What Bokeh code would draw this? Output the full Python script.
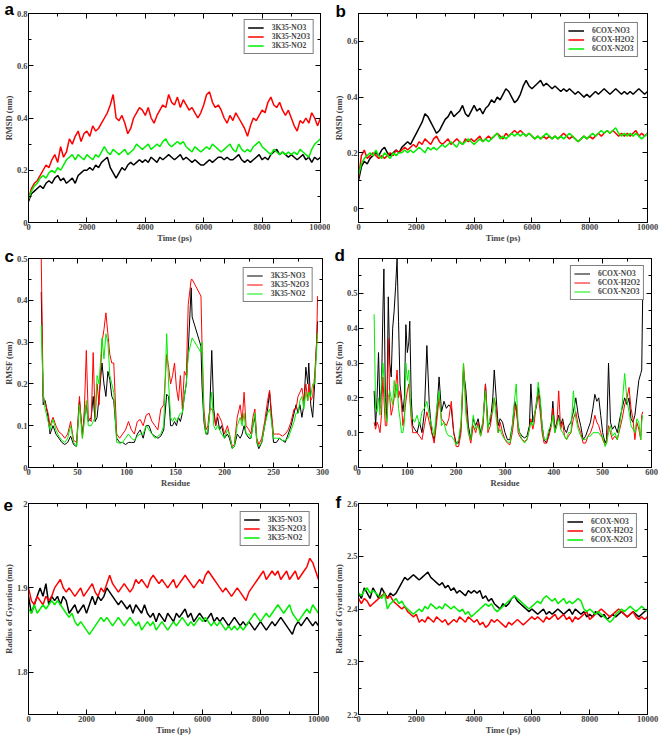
from bokeh.plotting import figure
from bokeh.layouts import column, row
from bokeh.models import (Range1d, LinearAxis, Legend, LegendItem,
                          FixedTicker, CustomJSTickFormatter)
from bokeh.embed import file_html
from bokeh.resources import INLINE

# ---------------- data ----------------
time_ps = list(range(0, 10001, 100))

# (a) RMSD 3K35
a_no3 = [.08,.11,.12,.13,.14,.13,.15,.16,.15,.17,
         .18,.16,.17,.15,.16,.17,.15,.18,.19,.20,
         .20,.21,.20,.22,.21,.23,.24,.25,.21,.19,
         .17,.19,.21,.20,.22,.23,.22,.23,.24,.23,
         .24,.23,.25,.24,.23,.25,.24,.25,.26,.25,
         .24,.25,.26,.24,.25,.24,.23,.24,.23,.22,
         .22,.23,.24,.23,.24,.25,.25,.24,.25,.24,
         .24,.25,.26,.24,.23,.24,.23,.24,.25,.26,
         .24,.25,.24,.26,.27,.28,.26,.27,.26,.25,
         .26,.25,.24,.25,.26,.24,.25,.23,.25,.24,
         .25]
a_n2o3 = [.09,.13,.15,.16,.18,.20,.22,.21,.24,.26,
          .23,.29,.25,.27,.32,.30,.33,.35,.31,.34,
          .35,.33,.37,.35,.36,.38,.40,.42,.45,.49,
          .40,.39,.41,.38,.34,.36,.40,.42,.44,.43,
          .41,.44,.40,.38,.41,.43,.45,.44,.49,.46,
          .45,.48,.44,.47,.45,.43,.44,.42,.40,.42,
          .45,.49,.50,.46,.44,.45,.43,.40,.38,.41,
          .39,.42,.40,.38,.36,.33,.37,.40,.39,.41,
          .43,.42,.46,.48,.45,.44,.46,.43,.41,.43,
          .40,.37,.35,.39,.38,.40,.38,.42,.40,.37,
          .40]
a_no2 = [.09,.12,.14,.15,.17,.18,.17,.19,.20,.19,
         .21,.20,.22,.24,.25,.26,.24,.26,.25,.24,
         .26,.25,.24,.26,.25,.27,.29,.27,.26,.28,
         .27,.26,.27,.28,.26,.27,.28,.30,.29,.28,
         .29,.30,.28,.29,.30,.29,.31,.32,.30,.29,
         .30,.31,.30,.31,.29,.28,.27,.29,.28,.27,
         .28,.29,.28,.30,.29,.28,.27,.28,.29,.30,
         .28,.27,.30,.28,.27,.28,.27,.29,.30,.31,
         .29,.28,.27,.26,.28,.27,.26,.27,.26,.27,
         .26,.27,.26,.28,.27,.26,.25,.28,.30,.31,
         .32]

# (b) RMSD 6COX
b_no3 = [.10,.15,.17,.16,.18,.19,.20,.19,.21,.22,
         .20,.19,.20,.21,.20,.22,.23,.24,.23,.25,
         .27,.29,.31,.34,.33,.31,.29,.27,.28,.30,
         .32,.33,.35,.33,.34,.35,.37,.34,.33,.35,
         .37,.35,.36,.34,.36,.37,.39,.38,.40,.39,
         .41,.43,.42,.40,.38,.39,.41,.44,.46,.44,
         .43,.44,.45,.46,.44,.45,.44,.43,.44,.43,
         .42,.43,.42,.43,.42,.41,.42,.41,.40,.41,
         .40,.41,.42,.41,.42,.43,.42,.41,.42,.43,
         .42,.41,.42,.41,.42,.41,.42,.43,.42,.41,
         .42]
b_h2o2 = [.11,.19,.21,.18,.19,.20,.19,.18,.19,.18,
          .19,.20,.19,.21,.20,.21,.22,.21,.22,.23,
          .22,.24,.23,.25,.24,.23,.25,.26,.24,.23,
          .24,.25,.23,.24,.25,.24,.23,.25,.24,.25,
          .24,.25,.26,.24,.25,.26,.25,.26,.27,.26,
          .25,.27,.26,.27,.28,.27,.28,.27,.26,.27,
          .26,.25,.26,.25,.26,.25,.26,.25,.26,.25,
          .26,.27,.26,.25,.26,.25,.24,.25,.26,.25,
          .26,.25,.26,.27,.26,.27,.28,.27,.28,.27,
          .26,.27,.26,.27,.26,.27,.28,.26,.27,.26,
          .27]
b_n2o3 = [.12,.16,.18,.19,.20,.19,.21,.19,.18,.20,
          .19,.18,.20,.19,.20,.20,.21,.20,.21,.20,
          .21,.22,.21,.20,.22,.21,.22,.21,.22,.23,
          .22,.23,.24,.23,.22,.24,.23,.24,.25,.24,
          .23,.24,.25,.24,.25,.24,.25,.26,.27,.25,
          .26,.25,.26,.27,.26,.27,.26,.27,.26,.27,
          .26,.25,.26,.25,.26,.27,.26,.25,.26,.25,
          .26,.25,.26,.27,.26,.25,.24,.25,.26,.25,
          .26,.27,.26,.27,.28,.27,.28,.27,.28,.29,
          .27,.26,.27,.26,.27,.26,.27,.26,.25,.26,
          .27]

# (c) RMSF 3K35
c_res = [13,15,17,20,22,25,28,31,34,37,
         40,43,46,49,52,55,57,59,61,64,
         66,68,70,72,75,77,79,81,83,85,
         87,90,93,96,99,102,105,108,111,114,
         117,120,123,126,129,132,135,138,141,143,
         145,147,149,151,153,155,157,159,161,163,
         166,167,176,177,179,181,183,185,187,189,
         191,193,195,197,200,203,205,208,210,213,
         216,218,220,222,225,227,229,231,233,235,
         238,241,244,246,248,250,253,256,259,262,
         265,268,271,273,275,277,279,281,283,285,
         286,288,290,292,294,295]
c_no3 = [.42,.15,.16,.12,.08,.10,.08,.07,.06,.055,
         .06,.075,.055,.05,.16,.08,.12,.15,.11,.12,
         .17,.11,.12,.17,.25,.20,.17,.23,.21,.17,
         .16,.07,.06,.06,.055,.06,.06,.06,.08,.09,
         .07,.10,.10,.08,.075,.07,.075,.09,.175,.17,
         .10,.10,.11,.10,.12,.11,.13,.17,.20,.28,
         .43,.36,.29,.20,.11,.08,.08,.14,.28,.14,
         .10,.12,.09,.10,.07,.08,.07,.045,.05,.08,
         .07,.08,.10,.08,.07,.07,.10,.12,.06,.045,
         .06,.10,.14,.18,.12,.06,.06,.07,.065,.06,
         .08,.10,.13,.15,.13,.15,.12,.15,.24,.20,
         .25,.15,.12,.20,.30,.35]
c_n2o3 = [.50,.17,.155,.13,.10,.12,.10,.085,.08,.07,
          .08,.11,.065,.06,.17,.07,.14,.28,.12,.11,
          .275,.12,.20,.15,.30,.33,.37,.32,.27,.25,
          .25,.08,.07,.08,.09,.11,.09,.08,.11,.115,
          .10,.125,.13,.11,.10,.09,.14,.15,.27,.24,
          .20,.22,.25,.19,.16,.22,.14,.23,.22,.39,
          .45,.45,.41,.30,.14,.09,.10,.14,.14,.13,
          .10,.13,.12,.11,.08,.10,.08,.05,.055,.12,
          .15,.11,.18,.10,.09,.08,.12,.14,.07,.055,
          .07,.11,.16,.185,.13,.08,.08,.08,.075,.08,
          .09,.11,.14,.14,.17,.18,.19,.16,.20,.16,
          .20,.16,.17,.22,.30,.41]
c_no2 = [.34,.18,.14,.11,.09,.115,.09,.075,.065,.06,
         .07,.10,.06,.05,.15,.07,.11,.16,.10,.10,
         .11,.12,.22,.20,.31,.26,.32,.30,.22,.20,
         .18,.06,.058,.06,.07,.08,.07,.065,.075,.08,
         .08,.10,.09,.08,.07,.075,.08,.10,.32,.20,
         .12,.11,.12,.11,.12,.13,.13,.17,.20,.27,
         .30,.31,.275,.30,.12,.08,.09,.13,.18,.10,
         .09,.10,.09,.08,.07,.09,.08,.045,.05,.10,
         .12,.10,.13,.08,.08,.07,.10,.13,.06,.05,
         .06,.10,.13,.14,.11,.07,.07,.07,.065,.065,
         .07,.09,.11,.13,.13,.16,.17,.14,.18,.16,
         .18,.17,.20,.20,.28,.32]

# (d) RMSF 6COX
d_res = [32,35,38,41,44,47,50,52,55,58,
         61,64,67,70,73,76,79,82,85,88,
         91,94,97,100,103,105,108,111,115,120,
         125,130,135,140,145,150,155,160,165,170,
         175,180,185,190,195,200,205,210,215,220,
         225,230,235,240,245,250,255,260,265,270,
         275,278,282,286,290,295,300,305,310,315,
         320,323,327,330,335,340,345,350,353,357,
         360,365,368,372,376,380,385,390,395,398,
         402,406,410,414,418,422,426,430,435,440,
         445,450,455,460,465,470,475,480,484,488,
         492,496,500,505,508,512,516,520,525,530,
         535,540,545,550,554,558,562,566,570,574,
         578,580,582]
d_no3 = [.22,.12,.20,.33,.17,.22,.45,.57,.20,.14,
         .49,.30,.26,.40,.45,.52,.60,.42,.24,.20,
         .16,.20,.41,.33,.36,.42,.20,.12,.11,.10,
         .13,.10,.16,.35,.18,.10,.08,.15,.26,.16,
         .19,.17,.18,.17,.10,.07,.07,.12,.28,.22,
         .12,.08,.14,.12,.14,.10,.13,.24,.12,.13,
         .20,.28,.20,.12,.14,.13,.10,.08,.08,.12,
         .19,.17,.12,.10,.09,.085,.09,.12,.24,.13,
         .15,.18,.23,.19,.12,.08,.07,.10,.13,.19,
         .11,.13,.15,.12,.14,.11,.10,.12,.13,.16,
         .20,.15,.12,.08,.09,.11,.13,.17,.21,.19,
         .20,.15,.10,.07,.08,.30,.13,.11,.12,.10,
         .14,.17,.20,.18,.20,.14,.13,.15,.20,.25,
         .27,.28,.50]
d_h2o2 = [.13,.11,.13,.12,.10,.15,.26,.20,.12,.12,
          .37,.20,.15,.17,.20,.23,.28,.20,.22,.18,
          .12,.15,.19,.22,.24,.20,.14,.10,.10,.10,
          .09,.08,.12,.16,.13,.10,.07,.13,.20,.14,
          .13,.12,.14,.19,.10,.06,.06,.10,.30,.18,
          .10,.07,.12,.10,.13,.09,.12,.24,.10,.12,
          .17,.20,.17,.10,.13,.10,.08,.07,.065,.10,
          .16,.18,.10,.09,.08,.075,.08,.11,.14,.11,
          .13,.20,.21,.16,.10,.07,.07,.09,.12,.17,
          .10,.12,.22,.11,.13,.09,.08,.09,.10,.14,
          .16,.12,.10,.07,.07,.09,.10,.12,.15,.13,
          .12,.10,.08,.065,.07,.12,.10,.08,.09,.08,
          .11,.14,.18,.20,.23,.17,.14,.08,.13,.11,
          .08,.15,.16]
d_n2o3 = [.44,.17,.16,.20,.15,.24,.30,.26,.16,.13,
          .20,.22,.20,.18,.25,.20,.24,.17,.14,.10,
          .10,.13,.30,.25,.28,.22,.15,.14,.13,.15,
          .12,.16,.17,.19,.15,.12,.09,.17,.22,.12,
          .13,.10,.09,.09,.08,.065,.08,.13,.30,.15,
          .10,.08,.15,.11,.12,.09,.14,.22,.11,.15,
          .16,.20,.14,.10,.11,.09,.08,.075,.07,.12,
          .20,.24,.12,.10,.08,.07,.08,.11,.13,.12,
          .15,.19,.245,.20,.12,.08,.08,.11,.12,.15,
          .10,.12,.14,.11,.10,.09,.08,.10,.10,.22,
          .14,.11,.09,.08,.08,.09,.09,.10,.10,.10,
          .10,.09,.09,.06,.07,.10,.12,.09,.10,.08,
          .12,.18,.27,.19,.16,.12,.11,.10,.14,.13,
          .08,.13,.15]

# (e) Rg 3K35
e_no3 = [1.89,1.87,1.88,1.89,1.90,1.89,1.905,1.88,1.89,1.885,
         1.89,1.88,1.89,1.885,1.87,1.875,1.88,1.87,1.875,1.88,
         1.87,1.88,1.89,1.88,1.89,1.885,1.89,1.90,1.895,1.89,
         1.885,1.88,1.885,1.88,1.875,1.88,1.87,1.88,1.875,1.87,
         1.88,1.87,1.865,1.87,1.86,1.87,1.865,1.86,1.87,1.865,
         1.86,1.87,1.865,1.87,1.875,1.865,1.87,1.86,1.865,1.87,
         1.865,1.86,1.865,1.87,1.86,1.865,1.86,1.865,1.86,1.855,
         1.86,1.865,1.86,1.855,1.86,1.855,1.86,1.855,1.85,1.855,
         1.86,1.855,1.85,1.855,1.86,1.855,1.86,1.865,1.86,1.855,
         1.85,1.845,1.855,1.86,1.855,1.86,1.865,1.86,1.855,1.86,
         1.855]
e_n2o3 = [1.90,1.885,1.88,1.89,1.885,1.88,1.89,1.885,1.89,1.90,
          1.905,1.91,1.90,1.895,1.90,1.895,1.89,1.895,1.90,1.89,
          1.895,1.90,1.905,1.895,1.89,1.90,1.895,1.905,1.915,1.905,
          1.90,1.895,1.90,1.905,1.90,1.895,1.90,1.91,1.905,1.91,
          1.905,1.90,1.91,1.915,1.91,1.905,1.91,1.905,1.90,1.905,
          1.91,1.90,1.905,1.91,1.915,1.91,1.905,1.90,1.905,1.91,
          1.905,1.915,1.92,1.915,1.91,1.905,1.90,1.895,1.90,1.895,
          1.89,1.895,1.90,1.895,1.89,1.885,1.895,1.90,1.905,1.91,
          1.915,1.92,1.91,1.915,1.92,1.915,1.92,1.91,1.915,1.92,
          1.91,1.915,1.92,1.91,1.915,1.92,1.925,1.935,1.93,1.92,
          1.91]
e_no2 = [1.875,1.87,1.88,1.87,1.875,1.88,1.875,1.88,1.885,1.88,
         1.885,1.88,1.875,1.87,1.865,1.87,1.86,1.855,1.86,1.855,
         1.85,1.845,1.85,1.855,1.86,1.865,1.86,1.865,1.86,1.855,
         1.86,1.865,1.86,1.855,1.86,1.865,1.86,1.855,1.86,1.85,
         1.855,1.86,1.855,1.86,1.85,1.855,1.86,1.855,1.85,1.855,
         1.86,1.855,1.86,1.865,1.86,1.855,1.86,1.855,1.86,1.865,
         1.86,1.865,1.86,1.855,1.86,1.855,1.86,1.855,1.85,1.855,
         1.85,1.855,1.85,1.855,1.85,1.855,1.86,1.865,1.87,1.865,
         1.86,1.865,1.87,1.865,1.87,1.875,1.88,1.875,1.87,1.875,
         1.88,1.87,1.865,1.86,1.865,1.87,1.875,1.87,1.88,1.875,
         1.87]

# (f) Rg 6COX
f_no3 = [2.43,2.42,2.44,2.43,2.42,2.44,2.43,2.42,2.44,2.43,
         2.42,2.43,2.425,2.43,2.44,2.45,2.46,2.455,2.46,2.465,
         2.46,2.455,2.46,2.465,2.47,2.46,2.455,2.45,2.445,2.45,
         2.44,2.445,2.435,2.44,2.43,2.435,2.43,2.425,2.435,2.43,
         2.435,2.43,2.435,2.42,2.425,2.415,2.42,2.41,2.405,2.40,
         2.41,2.405,2.41,2.42,2.425,2.415,2.41,2.405,2.40,2.395,
         2.40,2.395,2.39,2.395,2.40,2.39,2.395,2.39,2.395,2.40,
         2.395,2.39,2.395,2.40,2.39,2.40,2.395,2.39,2.395,2.385,
         2.39,2.385,2.395,2.39,2.385,2.39,2.38,2.385,2.39,2.385,
         2.39,2.395,2.39,2.385,2.39,2.395,2.39,2.385,2.39,2.395,
         2.40]
f_h2o2 = [2.42,2.41,2.42,2.415,2.405,2.41,2.415,2.42,2.425,2.43,
          2.42,2.425,2.415,2.41,2.405,2.40,2.405,2.395,2.39,2.385,
          2.39,2.375,2.38,2.375,2.385,2.38,2.375,2.385,2.38,2.375,
          2.38,2.37,2.375,2.38,2.375,2.385,2.38,2.375,2.385,2.38,
          2.375,2.38,2.37,2.375,2.365,2.37,2.38,2.375,2.38,2.375,
          2.37,2.365,2.375,2.37,2.375,2.38,2.375,2.37,2.375,2.38,
          2.385,2.38,2.385,2.38,2.375,2.385,2.38,2.385,2.39,2.38,
          2.385,2.39,2.38,2.385,2.375,2.385,2.38,2.385,2.39,2.395,
          2.38,2.385,2.39,2.395,2.40,2.395,2.39,2.385,2.39,2.395,
          2.40,2.395,2.39,2.385,2.39,2.395,2.385,2.38,2.385,2.38,
          2.385]
f_n2o3 = [2.43,2.425,2.435,2.44,2.43,2.435,2.43,2.425,2.42,2.43,
          2.40,2.41,2.415,2.42,2.41,2.415,2.405,2.40,2.395,2.39,
          2.395,2.40,2.395,2.405,2.40,2.41,2.405,2.40,2.405,2.40,
          2.41,2.405,2.40,2.405,2.40,2.395,2.40,2.39,2.395,2.385,
          2.39,2.395,2.40,2.405,2.41,2.405,2.41,2.40,2.395,2.40,
          2.405,2.41,2.415,2.42,2.425,2.42,2.415,2.41,2.405,2.40,
          2.405,2.41,2.415,2.41,2.42,2.425,2.42,2.415,2.42,2.41,
          2.415,2.42,2.41,2.415,2.41,2.415,2.42,2.415,2.40,2.395,
          2.40,2.395,2.39,2.395,2.39,2.385,2.38,2.375,2.38,2.39,
          2.395,2.40,2.395,2.40,2.405,2.40,2.395,2.40,2.405,2.40,
          2.395]

# tick values
t_major = [0, 2000, 4000, 6000, 8000, 10000]
t_minor = [1000, 3000, 5000, 7000, 9000]

# ---------------- styling ----------------
SERIF = "Liberation Serif"
COLORS = ["#000000", "#ff0000", "#00ee00"]
FS = "8.5px"
fmt = CustomJSTickFormatter(code="return String(Math.round(tick*1000)/1000);")


def style_axis(ax, major, minor, labelled):
    ax.ticker = FixedTicker(ticks=major, minor_ticks=minor)
    ax.formatter = fmt
    ax.axis_line_color = "black"
    ax.major_tick_in = 5
    ax.major_tick_out = 0
    ax.minor_tick_in = 3
    ax.minor_tick_out = 0
    ax.major_tick_line_color = "black"
    ax.minor_tick_line_color = "black"
    if labelled:
        ax.major_label_text_font = SERIF
        ax.major_label_text_font_style = "bold"
        ax.major_label_text_font_size = FS
        ax.major_label_standoff = 1
        ax.axis_label_text_font = SERIF
        ax.axis_label_text_font_style = "bold"
        ax.axis_label_text_font_size = FS
        ax.axis_label_standoff = 0
    else:
        # tick marks only: labels are not drawn at all
        ax.major_label_text_font_size = "0px"
        ax.major_label_text_color = None
        ax.major_label_standoff = 0


def panel(width, height, borders, xr, yr, xt, yt, xlabel, ylabel, letter,
          letter_off, xs, series, names, leg_margin, lw=1.0):
    bl, br, bt, bb = borders
    p = figure(width=width, height=height, x_range=Range1d(*xr),
               y_range=Range1d(*yr), output_backend="svg",
               toolbar_location=None, min_border_left=bl,
               min_border_right=br, min_border_top=bt, min_border_bottom=bb)
    p.xgrid.visible = False
    p.ygrid.visible = False
    p.outline_line_color = "black"
    p.outline_line_width = 1
    p.background_fill_color = "white"
    p.border_fill_color = "white"
    p.xaxis.axis_label = xlabel
    p.yaxis.axis_label = ylabel
    style_axis(p.xaxis[0], xt[0], xt[1], True)
    style_axis(p.yaxis[0], yt[0], yt[1], True)
    top = LinearAxis()
    right = LinearAxis()
    style_axis(top, xt[0], xt[1], False)
    style_axis(right, yt[0], yt[1], False)
    p.add_layout(top, "above")
    p.add_layout(right, "right")
    # panel letter as the (left aligned, pulled-in) title
    p.title.text = letter
    p.title.text_font = "Liberation Sans"
    p.title.text_font_style = "bold"
    p.title.text_font_size = "17px"
    p.title.text_color = "black"
    p.title.align = "left"
    p.title.vertical_align = "bottom"
    p.title.offset = letter_off[0]
    p.title.standoff = letter_off[1]
    items = []
    for ys, name, col in zip(series, names, COLORS):
        r = p.line(xs, ys, line_color=col, line_width=lw)
        items.append(LegendItem(label=name, renderers=[r]))
    leg = Legend(items=items, location="top_right", margin=leg_margin,
                 border_line_color="black", border_line_width=1,
                 background_fill_color="white", background_fill_alpha=1,
                 label_text_font=SERIF, label_text_font_style="bold",
                 label_text_font_size="7.5px", glyph_width=16, glyph_height=9,
                 label_height=9, label_standoff=8, padding=3, spacing=0)
    p.add_layout(leg)
    return p


W = 330
H1, H2, H3 = 245, 245, 248
names_3k35 = ["3K35-NO3", "3K35-N2O3", "3K35-NO2"]
names_6cox = ["6COX-NO3", "6COX-H2O2", "6COX-N2O3"]

pa = panel(W, H1, (27, 10, 13, 21), (0, 10000), (0, 0.8),
           (t_major, t_minor), ([0, 0.2, 0.4, 0.6, 0.8], [0.1, 0.3, 0.5, 0.7]),
           "Time (ps)", "RMSD (nm)", "a", (-24, -11),
           time_ps, [a_no3, a_n2o3, a_no2], names_3k35, 6, lw=1.5)
pb = panel(W, H1, (25, 13, 11, 23), (0, 10000), (-0.05, 0.7),
           (t_major, t_minor), ([0, 0.2, 0.4, 0.6], [0.1, 0.3, 0.5]),
           "Time (ps)", "RMSD (nm)", "b", (-23, -15),
           time_ps, [b_no3, b_h2o2, b_n2o3], names_6cox, 9, lw=1.5)
pc = panel(W, H2, (27, 8, 12, 21), (0, 300), (0, 0.5),
           ([0, 50, 100, 150, 200, 250, 300], [25, 75, 125, 175, 225, 275]),
           ([0, 0.1, 0.2, 0.3, 0.4, 0.5], [0.05, 0.15, 0.25, 0.35, 0.45]),
           "Residue", "RMSF (nm)", "c", (-24, -15),
           c_res, [c_no3, c_n2o3, c_no2], names_3k35, 9)
pd_ = panel(W, H2, (26, 9, 13, 21), (0, 600), (0, 0.6),
            ([0, 100, 200, 300, 400, 500, 600], [50, 150, 250, 350, 450, 550]),
            ([0, 0.1, 0.2, 0.3, 0.4, 0.5], [0.05, 0.15, 0.25, 0.35, 0.45, 0.55]),
            "Residue", "RMSF (nm)", "d", (-24, -13),
            d_res, [d_no3, d_h2o2, d_n2o3], names_6cox, 7)
pe = panel(W, H3, (28, 12, 13, 24), (0, 10000), (1.75, 2.0),
           (t_major, t_minor), ([1.8, 1.9, 2.0], [1.75, 1.85, 1.95]),
           "Time (ps)", "Radius of Gyration (nm)", "e", (-25, -15),
           time_ps, [e_no3, e_n2o3, e_no2], names_3k35, 8, lw=1.5)
pf = panel(W, H3, (26, 13, 12, 23), (0, 10000), (2.2, 2.6),
           (t_major, t_minor), ([2.2, 2.3, 2.4, 2.5, 2.6], [2.25, 2.35, 2.45, 2.55]),
           "Time (ps)", "Radius of Gyration (nm)", "f", (-23, -17),
           time_ps, [f_no3, f_h2o2, f_n2o3], names_6cox, 10, lw=1.5)

layout = column(row(pa, pb), row(pc, pd_), row(pe, pf))
open("out.html", "w").write(file_html(layout, INLINE))
